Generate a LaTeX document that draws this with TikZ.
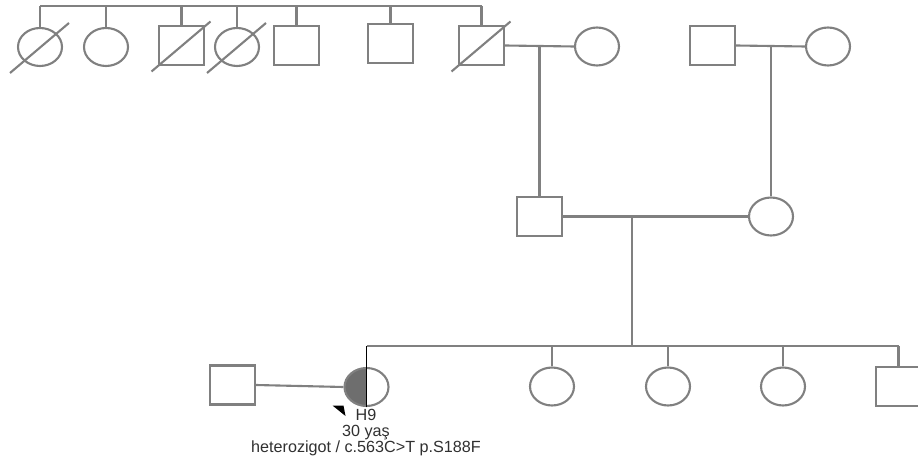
\documentclass[tikz,border=0pt]{standalone}
\usepackage{fontspec}
\setmainfont{Liberation Sans}
\usetikzlibrary{shapes.geometric}
\definecolor{pedline}{HTML}{808080}
\definecolor{pedfill}{HTML}{6E6E6E}
\definecolor{pedtext}{HTML}{303030}
\newcommand{\deceased}[1]{\draw[pedline, line width=1.2pt] ([shift={(-30,26)}]#1.center) -- ([shift={(29,-24)}]#1.center);}
\begin{document}
\begin{tikzpicture}[x=0.02cm, y=-0.02cm,
        male/.style={draw=pedline, line width=1.2pt, rectangle, inner sep=0pt, minimum width=0.9cm, minimum height=0.78cm},
        female/.style={draw=pedline, line width=1.2pt, ellipse, inner sep=0pt, minimum width=0.88cm, minimum height=0.76cm},
        tie/.style={draw=pedline, line width=1.2pt}]
        \useasboundingbox (0,0) rectangle (918,462);

        % Grandparents, father's side and his siblings
        \node[female] (g1) at (40,47) {};
        \node[female] (g2) at (106,47) {};
        \node[male] (g3) at (181.5,45.5) {};
        \node[female] (g4) at (237,47) {};
        \node[male] (g5) at (296.5,45.5) {};
        \node[male] (g6) at (390.5,43.5) {};
        \node[male] (g7) at (481.5,45.5) {};
        \node[female] (gw) at (597,46.5) {};
        \deceased{g1}
        \deceased{g3}
        \deceased{g4}
        \deceased{g7}
        \coordinate (top) at (0,6);
        \draw[tie] (g1 |- top) -- (g7 |- top);
        \foreach \n in {g1,g2,g3,g4,g5,g6,g7}
            \draw[tie] (\n |- top) -- (\n.north);

        % Grandparents, mother's side
        \node[male] (mgf) at (712.5,45.5) {};
        \node[female] (mgm) at (828,46.5) {};

        % Parents
        \node[male] (father) at (539.5,216.5) {};
        \node[female] (mother) at (771,216.5) {};
        \draw[tie] (g7.east) -- (gw.west);
        \draw[tie] (g7.east -| father) -- (father.north);
        \draw[tie] (mgf.east) -- (mgm.west);
        \draw[tie] (mgf.east -| mother) -- (mother.north);
        \draw[tie] (father.east) -- (mother.west);

        % Children
        \node[male] (spouse) at (232.5,385) {};
        \node[female, path picture={\fill[pedfill] (path picture bounding box.south west) rectangle (path picture bounding box.north);}] (proband) at (366.5,387) {};
        \node[female] (s1) at (552,386.5) {};
        \node[female] (s2) at (668,386.5) {};
        \node[female] (s3) at (783,386.5) {};
        \node[male] (s4) at (898.5,386.5) {};
        \coordinate (sib) at (632,346);
        \draw[tie] (father.east -| sib) -- (sib);
        \draw[tie] (proband |- sib) -- (s4 |- sib);
        \foreach \n in {s1,s2,s3,s4}
            \draw[tie] (\n |- sib) -- (\n.north);
        \draw[line width=0.6pt] (proband |- sib) -- (proband.south);
        \draw[tie] (spouse.east) -- (proband.west);

        % Proband marker and label
        \fill ([shift={(-34,18.5)}]proband.center) -- ([shift={(-23,18.5)}]proband.center) -- ([shift={(-21,29)}]proband.center) -- cycle;
        \node[anchor=base, align=center, text=pedtext, font=\fontsize{9.2pt}{9.07pt}\selectfont] (info) at (366,452) {H9\\30 yaş\\heterozigot / c.563C>T p.S188F};
    \end{tikzpicture}
\end{document}
